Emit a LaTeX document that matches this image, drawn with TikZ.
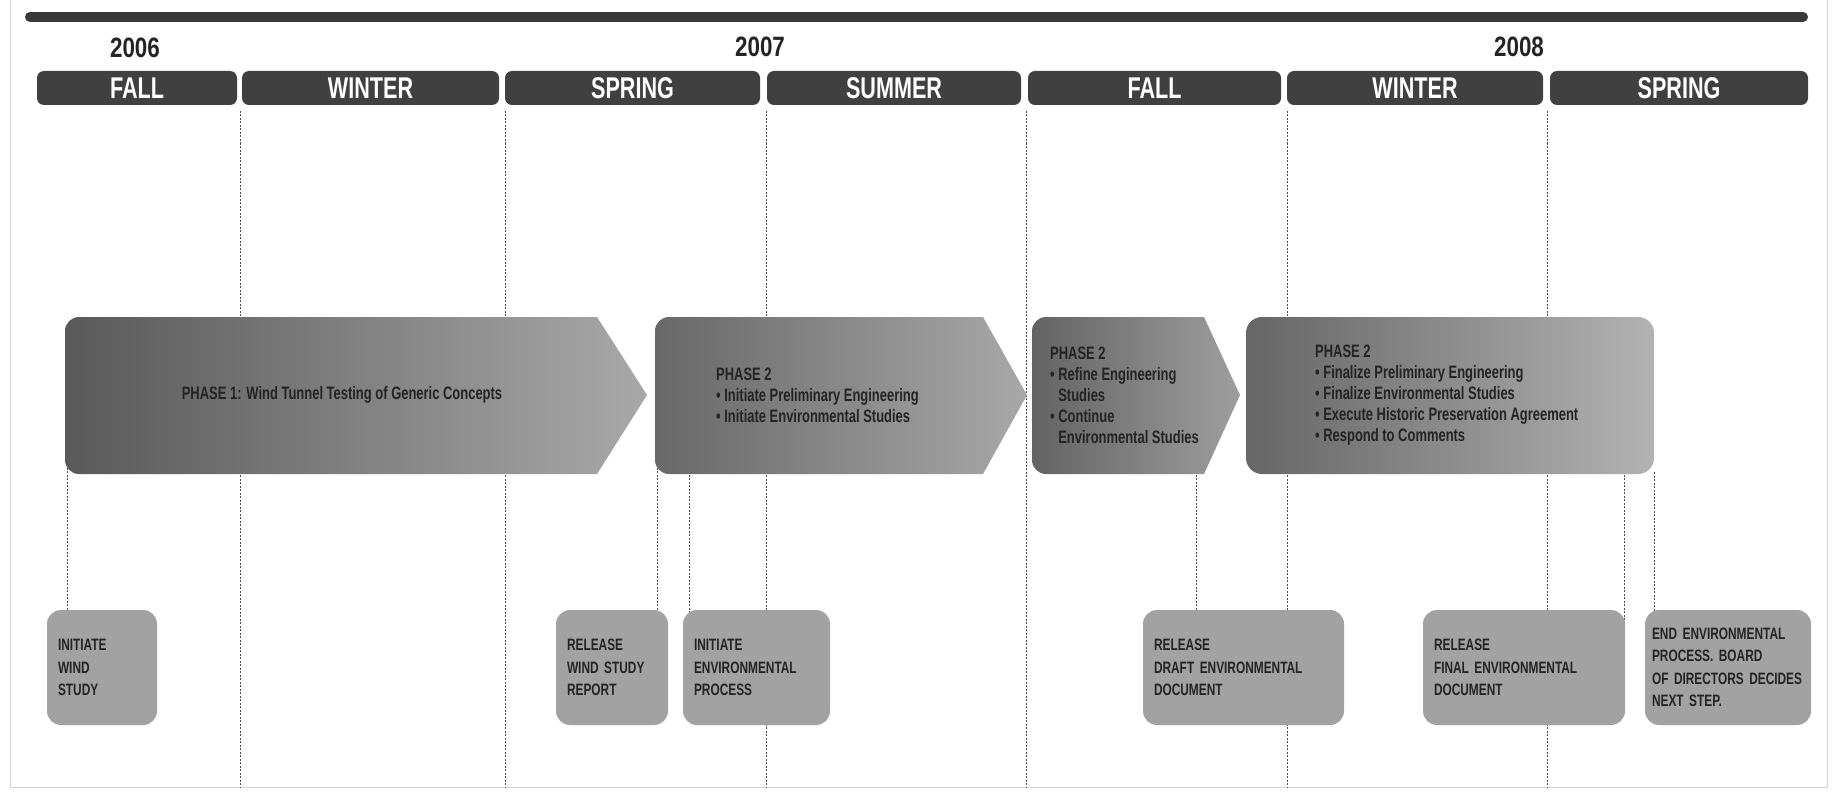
\documentclass[tikz,border=0pt]{standalone}
\usepackage{fontspec}
\setmainfont{Liberation Sans}[FakeStretch=0.8]
\newfontfamily\condfont{Liberation Sans}[FakeStretch=0.72]
\usetikzlibrary{backgrounds}

\definecolor{barc}{HTML}{393939}
\definecolor{seasc}{HTML}{404040}
\definecolor{boxc}{HTML}{A2A2A2}
\definecolor{txtc}{HTML}{242424}
\definecolor{gridc}{HTML}{4C4C4C}
\definecolor{framec}{HTML}{D2D2D2}

\begin{document}
\begin{tikzpicture}[x=1pt,y=-1pt]

\tikzstyle{grd}=[gridc,line width=1pt,dash pattern=on 2pt off 1.5pt]
\tikzstyle{season}=[fill=seasc,rounded corners=7pt,minimum height=34pt,inner sep=0pt,text=white,font=\condfont\fontsize{30}{30}\selectfont\bfseries]
\tikzstyle{year}=[text=txtc,font=\fontsize{28}{28}\selectfont\bfseries]
\tikzstyle{ptxt}=[text=txtc,align=left,inner sep=0pt,font=\condfont\fontsize{18}{21}\selectfont\bfseries]
\tikzstyle{evbox}=[fill=boxc,rounded corners=14pt,minimum height=115pt,align=left,inner xsep=11pt,text=txtc,font=\condfont\fontsize{16.5}{22.5}\selectfont\bfseries]

\useasboundingbox (0,0) rectangle (1833,797);

\draw[barc,line width=10pt,line cap=round] (30,17) -- (1803,17);

\node[year] (y6) at (135,48) {2006};
\node[year] (y7) at (760,47) {2007};
\node[year] (y8) at (1519,47) {2008};

\node[season,minimum width=200pt] (fall1) at (137,88) {FALL};
\node[season,minimum width=257pt] (wint1) at (370.5,88) {WINTER};
\node[season,minimum width=255pt] (spr1) at (632.5,88) {SPRING};
\node[season,minimum width=254pt] (summ1) at (894,88) {SUMMER};
\node[season,minimum width=253pt] (fall2) at (1154.5,88) {FALL};
\node[season,minimum width=256pt] (wint2) at (1415,88) {WINTER};
\node[season,minimum width=258pt] (spr2) at (1679,88) {SPRING};

\shade[left color=black!65,right color=black!34] (330,317) [rounded corners=14pt] -- (65,317) -- (65,474) -- (330,474) [sharp corners] -- (597,474) -- (647,395) -- (597,317) -- cycle;
\shade[left color=black!59,right color=black!34] (800,317) [rounded corners=14pt] -- (655,317) -- (655,474) -- (800,474) [sharp corners] -- (983,474) -- (1027,395) -- (983,317) -- cycle;
\shade[left color=black!61,right color=black!38] (1100,317) [rounded corners=14pt] -- (1032,317) -- (1032,474) -- (1100,474) [sharp corners] -- (1204,474) -- (1240,395) -- (1204,317) -- cycle;
\shade[left color=black!60,right color=black!30,rounded corners=16pt] (1246,317) rectangle (1654,474);

\node[shape=coordinate] (c1) at (67,450){};
\node[shape=coordinate] (c2) at (657,450){};
\node[shape=coordinate] (c3) at (689,450){};
\node[shape=coordinate] (c4) at (1196,450){};
\node[shape=coordinate] (c5) at (1624,450){};
\node[shape=coordinate] (c6) at (1654,472){};

\node[ptxt] (p1t) at (342,395) {PHASE 1: Wind Tunnel Testing of Generic Concepts};
\node[ptxt,anchor=west] (p2at) at (716,395) {PHASE 2\\• Initiate Preliminary Engineering\\• Initiate Environmental Studies};
\node[ptxt,anchor=west] (p2bt) at (1050,395) {PHASE 2\\• Refine Engineering\\\hphantom{• }Studies\\• Continue\\\hphantom{• }Environmental Studies};
\node[ptxt,anchor=west] (p2ct) at (1315,395) {PHASE 2\\• Finalize Preliminary Engineering\\• Finalize Environmental Studies\\• Execute Historic Preservation Agreement\\• Respond to Comments};

\node[evbox,text width=88pt] (ws) at (102,667.5) {INITIATE\\WIND\\STUDY};
\node[evbox,text width=90pt] (wr) at (612,667.5) {RELEASE\\WIND STUDY\\REPORT};
\node[evbox,text width=125pt] (ie) at (756.5,667.5) {INITIATE\\ENVIRONMENTAL\\PROCESS};
\node[evbox,text width=179pt] (rd) at (1243.5,667.5) {RELEASE\\DRAFT ENVIRONMENTAL\\DOCUMENT};
\node[evbox,text width=180pt] (rf) at (1524,667.5) {RELEASE\\FINAL ENVIRONMENTAL\\DOCUMENT};
\node[evbox,text width=152pt,inner xsep=7pt] (ee) at (1728,667.5) {END ENVIRONMENTAL\\PROCESS. BOARD\\OF DIRECTORS DECIDES\\NEXT STEP.};

\begin{pgfonlayer}{background}
\fill[white] (0,0) rectangle (1833,797);
\draw[framec] (10,0) -- (10,787) -- (1827,787) -- (1827,0);

\draw[grd] (240,111) -- (240,788);
\draw[grd] (505,111) -- (505,788);
\draw[grd] (766,111) -- (766,788);
\draw[grd] (1026,111) -- (1026,788);
\draw[grd] (1287,111) -- (1287,788);
\draw[grd] (1547,111) -- (1547,788);

\draw[grd] (c1) -- (c1 |- ws.center);
\draw[grd] (c2) -- (c2 |- wr.center);
\draw[grd] (c3) -- (c3 |- ie.center);
\draw[grd] (c4) -- (c4 |- rd.center);
\draw[grd] (c5) -- (c5 |- rf.center);
\draw[grd] (c6) -- (c6 |- ee.center);
\end{pgfonlayer}

\end{tikzpicture}
\end{document}
